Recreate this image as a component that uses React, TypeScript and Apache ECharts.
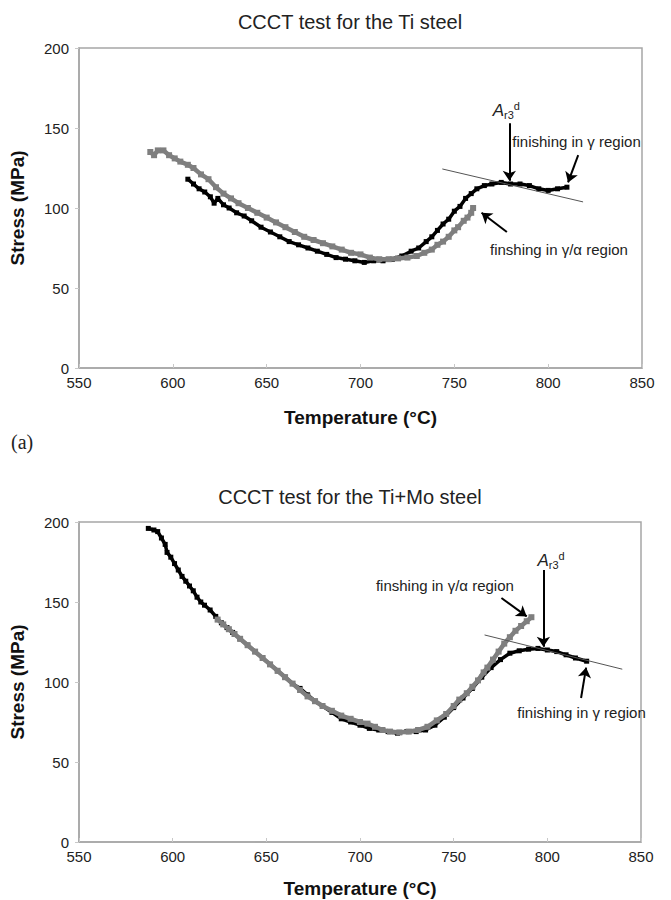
import React, { useEffect, useRef } from "react";
import * as echarts from "echarts";

// Stress (MPa) vs temperature (°C), Ti steel
const tiGammaPass: [number, number][] = [
  [608, 118], [611, 115], [614, 112], [617, 110], [620, 107], [622, 103], [624, 106],
  [627, 102], [630, 100], [634, 97], [638, 95], [642, 92], [647, 88], [652, 85],
  [657, 82], [662, 79], [667, 77], [672, 75], [677, 73], [682, 71], [687, 69],
  [692, 68], [697, 67], [702, 66], [707, 67], [712, 67], [717, 68], [722, 70],
  [727, 73], [731, 75], [735, 79], [738, 82], [741, 86], [744, 90], [747, 93],
  [750, 98], [753, 101], [756, 106], [759, 109], [762, 112], [766, 114], [770, 115],
  [775, 116], [780, 115], [785, 115], [790, 114], [795, 112], [800, 111], [805, 112],
  [810, 113],
];
const tiGammaAlphaPass: [number, number][] = [
  [588, 135], [590, 133], [592, 136], [595, 136], [598, 133], [601, 131], [604, 129],
  [608, 127], [611, 125], [615, 121], [619, 118], [623, 113], [627, 109], [631, 106],
  [635, 103], [640, 100], [645, 97], [650, 94], [655, 91], [660, 88], [665, 85],
  [670, 82], [675, 80], [680, 78], [685, 76], [690, 74], [695, 72], [700, 71],
  [705, 69], [710, 68], [715, 68], [720, 68.5], [725, 69], [730, 70], [734, 72],
  [738, 74], [741, 77], [744, 79], [747, 82], [750, 86], [752, 88], [755, 92],
  [757, 94], [759, 97], [760, 100],
];

// Stress (MPa) vs temperature (°C), Ti+Mo steel
const moGammaPass: [number, number][] = [
  [587, 196], [590, 195], [592, 194], [594, 190], [596, 186], [597, 181], [599, 178],
  [601, 174], [603, 170], [605, 166], [607, 163], [609, 160], [611, 157], [613, 153],
  [615, 150], [617, 148], [620, 145], [623, 141], [626, 137], [629, 134], [632, 131],
  [636, 127], [640, 123], [644, 119], [648, 115], [652, 111], [656, 107], [660, 103],
  [664, 99], [668, 96], [672, 92], [676, 88], [680, 85], [685, 81], [690, 77],
  [695, 75], [700, 73], [705, 71], [710, 70], [715, 69], [720, 68], [725, 69],
  [730, 69], [735, 70], [740, 73], [745, 78], [750, 84], [755, 90], [760, 96],
  [765, 103], [770, 109], [775, 114], [780, 118], [785, 119.5], [790, 120.5],
  [795, 121], [800, 120], [805, 119], [810, 117], [815, 115], [821, 113],
];
const moGammaAlphaPass: [number, number][] = [
  [624, 139], [627, 136], [630, 133], [633, 130], [636, 127], [640, 123], [644, 119],
  [648, 115], [652, 111], [656, 107], [660, 103], [664, 99], [668, 95], [672, 91],
  [676, 88], [680, 85], [685, 82], [690, 79], [695, 77], [700, 75], [704, 74],
  [708, 72], [712, 70], [716, 69], [721, 68.5], [726, 69], [731, 70], [736, 72],
  [741, 76], [746, 80], [750, 85], [753, 89], [757, 93], [760, 97], [763, 101],
  [766, 106], [768, 109], [771, 114], [774, 119], [777, 124], [780, 128], [783, 132],
  [786, 135], [789, 138], [791.5, 140.5],
];

// Tangent lines through the Ar3 point
const tiTangent: [number, number][] = [[743.6, 124.4], [818.6, 103.8]];
const moTangent: [number, number][] = [[766.5, 129.4], [840, 108]];

// Arrows: [from, to]
const tiArrows: [number, number][][] = [
  [[779.3, 153], [779.3, 117]],
  [[816, 133], [810.6, 116]],
  [[778, 85], [764.5, 97]],
];
const moArrows: [number, number][][] = [
  [[797.9, 170], [797.9, 122]],
  [[775.5, 152.5], [789, 141]],
  [[818, 90], [820.7, 109]],
];

const chartTitles = ["CCCT test for the Ti steel", "CCCT test for the Ti+Mo steel"];
const tempRange = [550, 850];
const stressRange = [0, 200];
const tempStep = 50;
const stressStep = 50;

// Annotation texts: [grid, temperature, stress, text]
const notes: [number, number, number, string][] = [
  [0, 780.9, 141.4, "finishing in γ region"],
  [0, 769, 73.8, "finshing in γ/α region"],
  [1, 708.5, 160.6, "finshing in γ/α region"],
  [1, 784, 80.8, "finishing in γ region"],
];
const ar3Labels: [number, number, number][] = [
  [0, 777.7, 161],
  [1, 802, 176],
];

const FONT = "'Liberation Sans', Arial, sans-serif";

export default function App() {
  const ref = useRef<HTMLDivElement>(null);

  useEffect(() => {
    if (!ref.current) return;
    const chart = echarts.init(ref.current, undefined, { renderer: "svg" });

    const grids = [
      { left: 78, top: 48, width: 564, height: 320 },
      { left: 78, top: 522, width: 563, height: 320 },
    ];

    const axisLineColor = "#a6a6a6";

    const xAxes = grids.map((_, i) => ({
      type: "value",
      gridIndex: i,
      min: tempRange[0],
      max: tempRange[1],
      interval: tempStep,
      name: "Temperature (°C)",
      nameLocation: "middle",
      nameGap: i === 0 ? 40 : 37,
      nameTextStyle: { fontFamily: FONT, fontWeight: "bold", fontSize: 19, color: "#111" },
      axisLine: { show: true, lineStyle: { color: axisLineColor, width: 1.5 } },
      axisTick: { show: true, inside: true, length: 4, lineStyle: { color: "#c8c8c8" } },
      axisLabel: { fontFamily: FONT, fontSize: 15, color: "#222", margin: 7 },
      splitLine: { show: false },
    }));

    const yAxes = grids.map((_, i) => ({
      type: "value",
      gridIndex: i,
      min: stressRange[0],
      max: stressRange[1],
      interval: stressStep,
      name: "Stress (MPa)",
      nameLocation: "middle",
      nameGap: 52,
      nameRotate: 90,
      nameTextStyle: { fontFamily: FONT, fontWeight: "bold", fontSize: 19, color: "#111" },
      axisLine: { show: true, lineStyle: { color: axisLineColor, width: 1.5 } },
      axisTick: { show: true, inside: false, length: 4, lineStyle: { color: "#c8c8c8" } },
      axisLabel: { fontFamily: FONT, fontSize: 15, color: "#222", margin: 10 },
      splitLine: { show: false },
    }));

    // Measured stress curve: a thick trace with square markers at each reading
    const curve = (data: [number, number][], i: number, color: string, width: number, mark: number, z: number) => ({
      type: "line",
      xAxisIndex: i,
      yAxisIndex: i,
      data,
      showSymbol: true,
      symbol: "rect",
      symbolSize: mark,
      itemStyle: { color, borderWidth: 0 },
      smooth: false,
      z,
      lineStyle: { color, width, join: "round", cap: "round" },
    });

    const annotationSeries = (tangent: [number, number][], arrows: [number, number][][], i: number) => ({
      type: "line",
      xAxisIndex: i,
      yAxisIndex: i,
      data: [],
      z: 5,
      markLine: {
        silent: true,
        animation: false,
        label: { show: false },
        symbolSize: 10,
        data: [
          [
            { coord: tangent[0], symbol: "none", lineStyle: { color: "#555", width: 1, type: "solid" } },
            { coord: tangent[1], symbol: "none" },
          ],
          ...arrows.map((a) => [
            { coord: a[0], symbol: "none", lineStyle: { color: "#000", width: 2, type: "solid" } },
            { coord: a[1], symbol: "arrow" },
          ]),
        ],
      },
    });

    chart.setOption({
      animation: false,
      backgroundColor: "#fff",
      title: chartTitles.map((t, i) => ({
        text: t,
        left: 345,
        textAlign: "center",
        top: i === 0 ? 7 : 482,
        textStyle: { fontFamily: FONT, fontWeight: "normal", fontSize: 20, color: "#222" },
      })),
      grid: grids.map((g) => ({ ...g, show: true, borderColor: axisLineColor, borderWidth: 1.5 })),
      xAxis: xAxes,
      yAxis: yAxes,
      series: [
        curve(tiGammaPass, 0, "#000", 3.5, 5, 2),
        curve(tiGammaAlphaPass, 0, "#7f7f7f", 4.5, 6, 3),
        annotationSeries(tiTangent, tiArrows, 0),
        curve(moGammaPass, 1, "#000", 3.5, 5, 2),
        curve(moGammaAlphaPass, 1, "#7f7f7f", 4.5, 6, 3),
        annotationSeries(moTangent, moArrows, 1),
      ],
    });

    const graphic: any[] = [];
    notes.forEach(([g, t, s, text]) => {
      const [px, py] = chart.convertToPixel({ gridIndex: g }, [t, s]) as number[];
      graphic.push({
        type: "text",
        x: px,
        y: py,
        z: 10,
        style: {
          text,
          fontFamily: FONT,
          fontSize: 15,
          fill: "#222",
          textAlign: "left",
          textVerticalAlign: "middle",
        },
      });
    });
    ar3Labels.forEach(([g, t, s]) => {
      const [px, py] = chart.convertToPixel({ gridIndex: g }, [t, s]) as number[];
      graphic.push({
        type: "text",
        x: px,
        y: py,
        z: 10,
        style: {
          text: "{a|A}{s|r3}{p|d}",
          textAlign: "center",
          textVerticalAlign: "middle",
          fill: "#222",
          rich: {
            a: { fontFamily: FONT, fontSize: 17, fontStyle: "italic", lineHeight: 20, fill: "#222" },
            s: { fontFamily: FONT, fontSize: 11, lineHeight: 11, verticalAlign: "bottom", fill: "#222" },
            p: { fontFamily: FONT, fontSize: 11, lineHeight: 11, verticalAlign: "top", fill: "#222" },
          },
        },
      });
    });
    graphic.push({
      type: "text",
      left: 11,
      top: 432,
      style: {
        text: "(a)",
        fontFamily: "'Liberation Serif', 'Times New Roman', serif",
        fontSize: 20,
        fill: "#222",
      },
    });
    chart.setOption({ graphic });

    return () => chart.dispose();
  }, []);

  return (
    <div
      ref={ref}
      style={{ position: "absolute", left: 0, top: 0, width: 671, height: 900, background: "#fff" }}
    />
  );
}
